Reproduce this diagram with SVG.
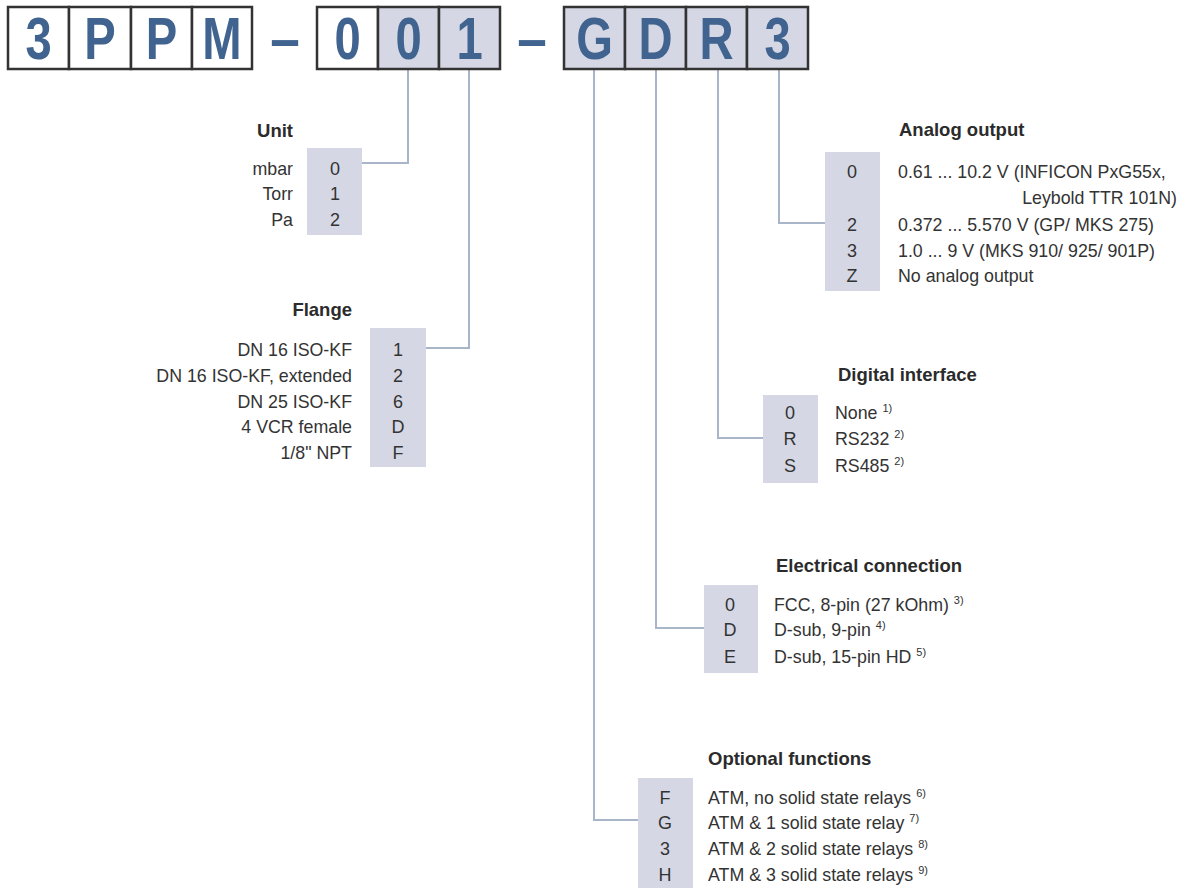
<svg xmlns="http://www.w3.org/2000/svg" width="1182" height="888" viewBox="0 0 1182 888">
<style>
.bg{fill:#ffffff}
.cell{stroke:#333;stroke-width:2.5}
.w{fill:#ffffff}
.g{fill:#d5d7e4}
.big{font-family:"Liberation Sans",Arial,sans-serif;font-weight:bold;font-size:59px;fill:#40648f;text-anchor:middle}
.lbl{font-family:"Liberation Sans",Arial,sans-serif;font-size:17.8px;fill:#333}
.ttl{font-family:"Liberation Sans",Arial,sans-serif;font-weight:bold;font-size:18.5px;fill:#2b2b2b}
.val{font-family:"Liberation Sans",Arial,sans-serif;font-size:18px;fill:#333;text-anchor:middle}
.r{text-anchor:end}
.sup{font-size:11px}
.box{fill:#d5d7e4}
.conn{fill:none;stroke:#a9b6c9;stroke-width:2}
</style>
<rect class="bg" x="0" y="0" width="1182" height="888"/>
<g id="connectors">
<polyline class="conn" points="408,69 408,163 362,163"/>
<polyline class="conn" points="469,69 469,348 426,348"/>
<polyline class="conn" points="594,69 594,820 638,820"/>
<polyline class="conn" points="656,69 656,628 704,628"/>
<polyline class="conn" points="718,69 718,438 763,438"/>
<polyline class="conn" points="779,69 779,223 825,223"/>
</g>
<g id="code">
<rect class="cell w" x="8" y="7" width="61" height="62"/>
<rect class="cell w" x="69" y="7" width="62" height="62"/>
<rect class="cell w" x="131" y="7" width="61" height="62"/>
<rect class="cell w" x="192" y="7" width="60" height="62"/>
<text class="big" transform="translate(38.5,59) scale(0.8,1)">3</text>
<text class="big" transform="translate(100,59) scale(0.8,1)">P</text>
<text class="big" transform="translate(161.5,59) scale(0.8,1)">P</text>
<text class="big" transform="translate(222,59) scale(0.8,1)">M</text>
<text class="big" transform="translate(285,59) scale(0.9,1)">–</text>
<rect class="cell w" x="317" y="7" width="61" height="62"/>
<rect class="cell g" x="378" y="7" width="61" height="62"/>
<rect class="cell g" x="439" y="7" width="61" height="62"/>
<text class="big" transform="translate(347.5,59) scale(0.8,1)">0</text>
<text class="big" transform="translate(408.5,59) scale(0.8,1)">0</text>
<text class="big" transform="translate(469.5,59) scale(0.8,1)">1</text>
<text class="big" transform="translate(532,59) scale(0.9,1)">–</text>
<rect class="cell g" x="564" y="7" width="61" height="62"/>
<rect class="cell g" x="625" y="7" width="61" height="62"/>
<rect class="cell g" x="686" y="7" width="61" height="62"/>
<rect class="cell g" x="747" y="7" width="61" height="62"/>
<text class="big" transform="translate(594.5,59) scale(0.8,1)">G</text>
<text class="big" transform="translate(655.5,59) scale(0.8,1)">D</text>
<text class="big" transform="translate(716.5,59) scale(0.8,1)">R</text>
<text class="big" transform="translate(777.5,59) scale(0.8,1)">3</text>
</g>
<g id="unit">
<rect class="box" x="307" y="148" width="55" height="87"/>
<text class="ttl r" x="293" y="137">Unit</text>
<text class="lbl r" x="293" y="175">mbar</text>
<text class="lbl r" x="293" y="200">Torr</text>
<text class="lbl r" x="293" y="226">Pa</text>
<text class="val" x="335" y="175">0</text>
<text class="val" x="335" y="200">1</text>
<text class="val" x="335" y="226">2</text>
</g>
<g id="flange">
<rect class="box" x="370" y="328" width="56" height="139"/>
<text class="ttl r" x="352" y="316">Flange</text>
<text class="lbl r" x="352" y="356">DN 16 ISO-KF</text>
<text class="lbl r" x="352" y="382">DN 16 ISO-KF, extended</text>
<text class="lbl r" x="352" y="408">DN 25 ISO-KF</text>
<text class="lbl r" x="352" y="433">4 VCR female</text>
<text class="lbl r" x="352" y="459">1/8" NPT</text>
<text class="val" x="398" y="356">1</text>
<text class="val" x="398" y="382">2</text>
<text class="val" x="398" y="408">6</text>
<text class="val" x="398" y="433">D</text>
<text class="val" x="398" y="459">F</text>
</g>
<g id="analog">
<rect class="box" x="825" y="152" width="55" height="139"/>
<text class="ttl" x="899" y="136">Analog output</text>
<text class="val" x="852" y="178">0</text>
<text class="val" x="852" y="231">2</text>
<text class="val" x="852" y="257">3</text>
<text class="val" x="852" y="282">Z</text>
<text class="lbl" x="898" y="178">0.61 ... 10.2 V (INFICON PxG55x,</text>
<text class="lbl r" x="1177" y="204">Leybold TTR 101N)</text>
<text class="lbl" x="898" y="231">0.372 ... 5.570 V (GP/ MKS 275)</text>
<text class="lbl" x="898" y="257">1.0 ... 9 V (MKS 910/ 925/ 901P)</text>
<text class="lbl" x="898" y="282">No analog output</text>
</g>
<g id="digital">
<rect class="box" x="763" y="395" width="55" height="88"/>
<text class="ttl" x="838" y="381">Digital interface</text>
<text class="val" x="790" y="419">0</text>
<text class="val" x="790" y="445">R</text>
<text class="val" x="790" y="472">S</text>
<text class="lbl" x="835" y="419">None <tspan class="sup" dy="-7">1)</tspan></text>
<text class="lbl" x="835" y="445">RS232 <tspan class="sup" dy="-7">2)</tspan></text>
<text class="lbl" x="835" y="472">RS485 <tspan class="sup" dy="-7">2)</tspan></text>
</g>
<g id="electrical">
<rect class="box" x="704" y="585" width="54" height="88"/>
<text class="ttl" x="776" y="572">Electrical connection</text>
<text class="val" x="730" y="611">0</text>
<text class="val" x="730" y="636">D</text>
<text class="val" x="730" y="663">E</text>
<text class="lbl" x="774" y="611">FCC, 8-pin (27 kOhm) <tspan class="sup" dy="-7">3)</tspan></text>
<text class="lbl" x="774" y="636">D-sub, 9-pin <tspan class="sup" dy="-7">4)</tspan></text>
<text class="lbl" x="774" y="663">D-sub, 15-pin HD <tspan class="sup" dy="-7">5)</tspan></text>
</g>
<g id="optional">
<rect class="box" x="638" y="778" width="55" height="110"/>
<text class="ttl" x="708" y="765">Optional functions</text>
<text class="val" x="665" y="804">F</text>
<text class="val" x="665" y="829">G</text>
<text class="val" x="665" y="855">3</text>
<text class="val" x="665" y="881">H</text>
<text class="lbl" x="708" y="804">ATM, no solid state relays <tspan class="sup" dy="-7">6)</tspan></text>
<text class="lbl" x="708" y="829">ATM &amp; 1 solid state relay <tspan class="sup" dy="-7">7)</tspan></text>
<text class="lbl" x="708" y="855">ATM &amp; 2 solid state relays <tspan class="sup" dy="-7">8)</tspan></text>
<text class="lbl" x="708" y="881">ATM &amp; 3 solid state relays <tspan class="sup" dy="-7">9)</tspan></text>
</g>
</svg>
